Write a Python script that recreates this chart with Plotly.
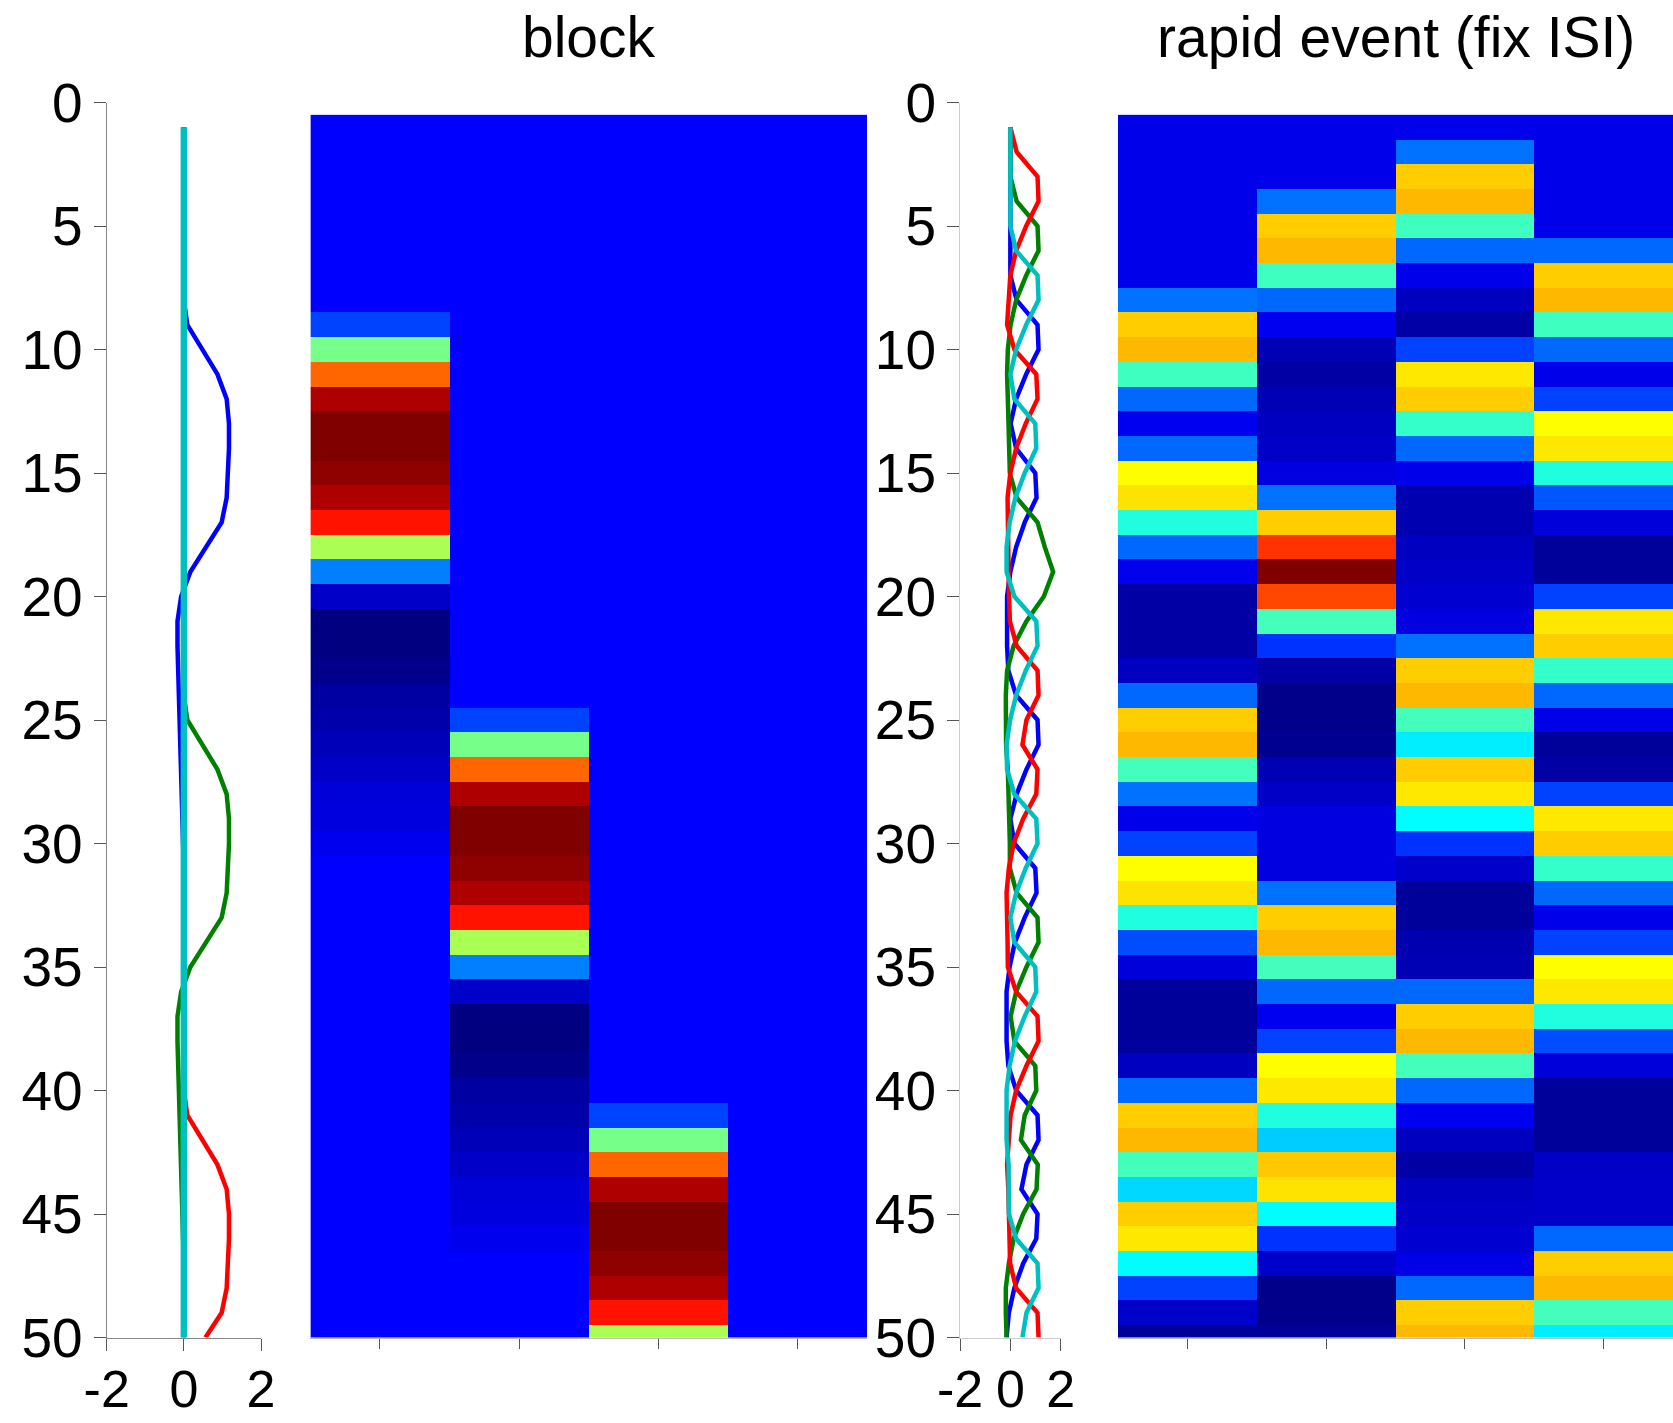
import plotly.graph_objects as go

# ---------------- data ----------------
rows = list(range(1, 51))

# block design regressors (rows 1..50)
block_c1 = [0, 0, 0, 0, 0, 0, 0, 0, 0.09, 0.49,
            0.87, 1.11, 1.17, 1.17, 1.15, 1.11, 0.98, 0.56, 0.17, -0.07,
            -0.165, -0.165, -0.15, -0.12, -0.11, -0.09, -0.07, -0.05, -0.04, -0.02,
            0, 0, 0, 0, 0, 0, 0, 0, 0, 0,
            0, 0, 0, 0, 0, 0, 0, 0, 0, 0]
block_c2 = [0, 0, 0, 0, 0, 0, 0, 0, 0, 0,
            0, 0, 0, 0, 0, 0, 0, 0, 0, 0,
            0, 0, 0, 0, 0.09, 0.49, 0.87, 1.11, 1.17, 1.17,
            1.15, 1.11, 0.98, 0.56, 0.17, -0.07, -0.165, -0.165, -0.15, -0.12,
            -0.11, -0.09, -0.07, -0.05, -0.04, -0.02, 0, 0, 0, 0]
block_c3 = [0, 0, 0, 0, 0, 0, 0, 0, 0, 0,
            0, 0, 0, 0, 0, 0, 0, 0, 0, 0,
            0, 0, 0, 0, 0, 0, 0, 0, 0, 0,
            0, 0, 0, 0, 0, 0, 0, 0, 0, 0,
            0.09, 0.49, 0.87, 1.11, 1.17, 1.17, 1.15, 1.11, 0.98, 0.56]
block_c4 = [0] * 50

# rapid event (fixed ISI) regressors (rows 1..50)
rapid_c1 = [0, 0, 0, 0, 0, 0, 0, 0.25, 1.08, 1.12,
            0.63, 0.23, 0.01, 0.23, 0.99, 1.04, 0.57, 0.23, 0, -0.13,
            -0.13, -0.13, -0.08, 0.23, 1.08, 1.12, 0.64, 0.25, 0.0, 0.16,
            0.99, 1.04, 0.57, 0.18, -0.03, -0.15, -0.15, -0.15, -0.08, 0.23,
            1.08, 1.12, 0.64, 0.44, 1.08, 1.03, 0.51, 0.16, -0.06, -0.15]
rapid_c2 = [0, 0, 0, 0.25, 1.08, 1.12, 0.63, 0.23, 0.01, -0.1,
            -0.13, -0.1, -0.08, -0.07, -0.02, 0.25, 1.08, 1.37, 1.7, 1.33,
            0.64, 0.13, -0.13, -0.18, -0.18, -0.17, -0.1, -0.07, -0.02, -0.02,
            -0.02, 0.25, 1.08, 1.12, 0.64, 0.23, 0.01, 0.16, 0.99, 1.03,
            0.57, 0.42, 1.09, 1.04, 0.51, 0.13, -0.06, -0.18, -0.18, -0.15]
rapid_c3 = [0, 0.25, 1.08, 1.12, 0.63, 0.23, 0.0, -0.08, -0.13, 0.16,
            1.03, 1.08, 0.61, 0.23, 0.0, -0.11, -0.11, -0.08, -0.07, -0.05,
            -0.02, 0.25, 1.08, 1.12, 0.64, 0.48, 1.08, 1.03, 0.51, 0.13,
            -0.06, -0.15, -0.15, -0.11, -0.1, 0.23, 1.08, 1.12, 0.64, 0.23,
            0.01, -0.08, -0.13, -0.08, -0.07, -0.05, -0.01, 0.23, 1.08, 1.12]
rapid_c4 = [0, 0, 0, 0, 0, 0.23, 1.08, 1.12, 0.63, 0.23,
            0.0, 0.16, 0.99, 1.03, 0.57, 0.2, -0.03, -0.15, -0.15, 0.16,
            1.03, 1.08, 0.61, 0.23, -0.01, -0.15, -0.13, 0.16, 1.03, 1.08,
            0.61, 0.23, 0.0, 0.16, 0.99, 1.03, 0.57, 0.18, -0.03, -0.15,
            -0.15, -0.15, -0.07, -0.06, -0.06, 0.23, 1.08, 1.12, 0.64, 0.48]

col_positions = [1, 2, 3, 4]
x_ticks_line = [-2, 0, 2]
x_tick_text = ["-2", "0", "2"]
y_ticks = [0, 5, 10, 15, 20, 25, 30, 35, 40, 45, 50]
titles = ["block", "rapid event (fix ISI)"]

line_colors = ["rgb(0,0,255)", "rgb(0,128,0)", "rgb(255,0,0)", "rgb(0,191,191)"]

jet = [[0.0, "rgb(0,0,128)"], [0.125, "rgb(0,0,255)"], [0.375, "rgb(0,255,255)"],
       [0.625, "rgb(255,255,0)"], [0.875, "rgb(255,0,0)"], [1.0, "rgb(128,0,0)"]]

FONT = "Liberation Sans, Arial, Helvetica, sans-serif"
W, H = 1673, 1423


def px_x(a, b):
    return [a / W, b / W]


ydom = [(H - 1337.5) / H, (H - 102.5) / H]

fig = go.Figure()

block_cols = [block_c1, block_c2, block_c3, block_c4]
rapid_cols = [rapid_c1, rapid_c2, rapid_c3, rapid_c4]

# panel 1 lines
for i, col in enumerate(block_cols):
    fig.add_trace(go.Scatter(x=col, y=rows, mode="lines",
                             line=dict(color=line_colors[i], width=6.5 if i == 3 else 4.5),
                             xaxis="x", yaxis="y", showlegend=False, hoverinfo="skip"))
# panel 2 heatmap
fig.add_trace(go.Heatmap(z=[list(r) for r in zip(*block_cols)], x=col_positions, y=rows,
                         colorscale=jet, showscale=False, xaxis="x2", yaxis="y2",
                         hoverinfo="skip"))
# panel 3 lines
for i, col in enumerate(rapid_cols):
    fig.add_trace(go.Scatter(x=col, y=rows, mode="lines",
                             line=dict(color=line_colors[i], width=4.5),
                             xaxis="x3", yaxis="y3", showlegend=False, hoverinfo="skip"))
# panel 4 heatmap
fig.add_trace(go.Heatmap(z=[list(r) for r in zip(*rapid_cols)], x=col_positions, y=rows,
                         colorscale=jet, zmin=-0.2, zmax=1.7, showscale=False,
                         xaxis="x4", yaxis="y4", hoverinfo="skip"))

tickfont = dict(family=FONT, size=55, color="black")
xtickfont = dict(family=FONT, size=52, color="black")

line_x = dict(range=[-2, 2], tickvals=x_ticks_line, ticktext=x_tick_text, ticks="outside",
              ticklen=12, tickcolor="#555", showline=True, linecolor="#888", linewidth=1,
              showgrid=False, zeroline=False, tickfont=xtickfont, automargin=False,
              ticklabelstandoff=-6)
line_y = dict(range=[50, 0], tickvals=y_ticks, ticks="outside", ticklen=12,
              tickcolor="#555", showline=True, linecolor="#888", linewidth=1,
              showgrid=False, zeroline=False, tickfont=tickfont, domain=ydom,
              automargin=False)
heat_x = dict(range=[0.5, 4.5], tickvals=col_positions, ticktext=["", "", "", ""],
              ticks="outside", ticklen=10, tickcolor="#555", showline=True,
              linecolor="#bbb", showgrid=False, zeroline=False, automargin=False)
heat_y = dict(range=[50, 0], showticklabels=False, ticks="", showline=False,
              showgrid=False, zeroline=False, domain=ydom, automargin=False)

fig.update_layout(
    template="none",
    width=W, height=H,
    margin=dict(l=0, r=0, t=0, b=0),
    paper_bgcolor="white", plot_bgcolor="white",
    showlegend=False,
    xaxis=dict(line_x, domain=px_x(106.7, 261), anchor="y"),
    yaxis=dict(line_y, anchor="x"),
    xaxis2=dict(heat_x, domain=px_x(310.4, 867), anchor="y2"),
    yaxis2=dict(heat_y, anchor="x2"),
    xaxis3=dict(line_x, domain=px_x(960, 1060.7), anchor="y3", linecolor="#ccc"),
    yaxis3=dict(line_y, anchor="x3", linecolor="#ccc"),
    xaxis4=dict(heat_x, domain=px_x(1118, 1673), anchor="y4"),
    yaxis4=dict(heat_y, anchor="x4"),
    annotations=[
        dict(text=titles[0], x=(310.4 + 867) / 2 / W, y=(H - 37) / H, xref="paper",
             yref="paper", xanchor="center", yanchor="middle", showarrow=False,
             font=dict(family=FONT, size=57, color="black")),
        dict(text=titles[1], x=(1118 + 1673) / 2 / W, y=(H - 37) / H, xref="paper",
             yref="paper", xanchor="center", yanchor="middle", showarrow=False,
             font=dict(family=FONT, size=57, color="black")),
    ],
)

fig.write_html("out.html", config={"displayModeBar": False},
               post_script="document.body.style.margin='0';document.body.style.overflow='hidden';")
